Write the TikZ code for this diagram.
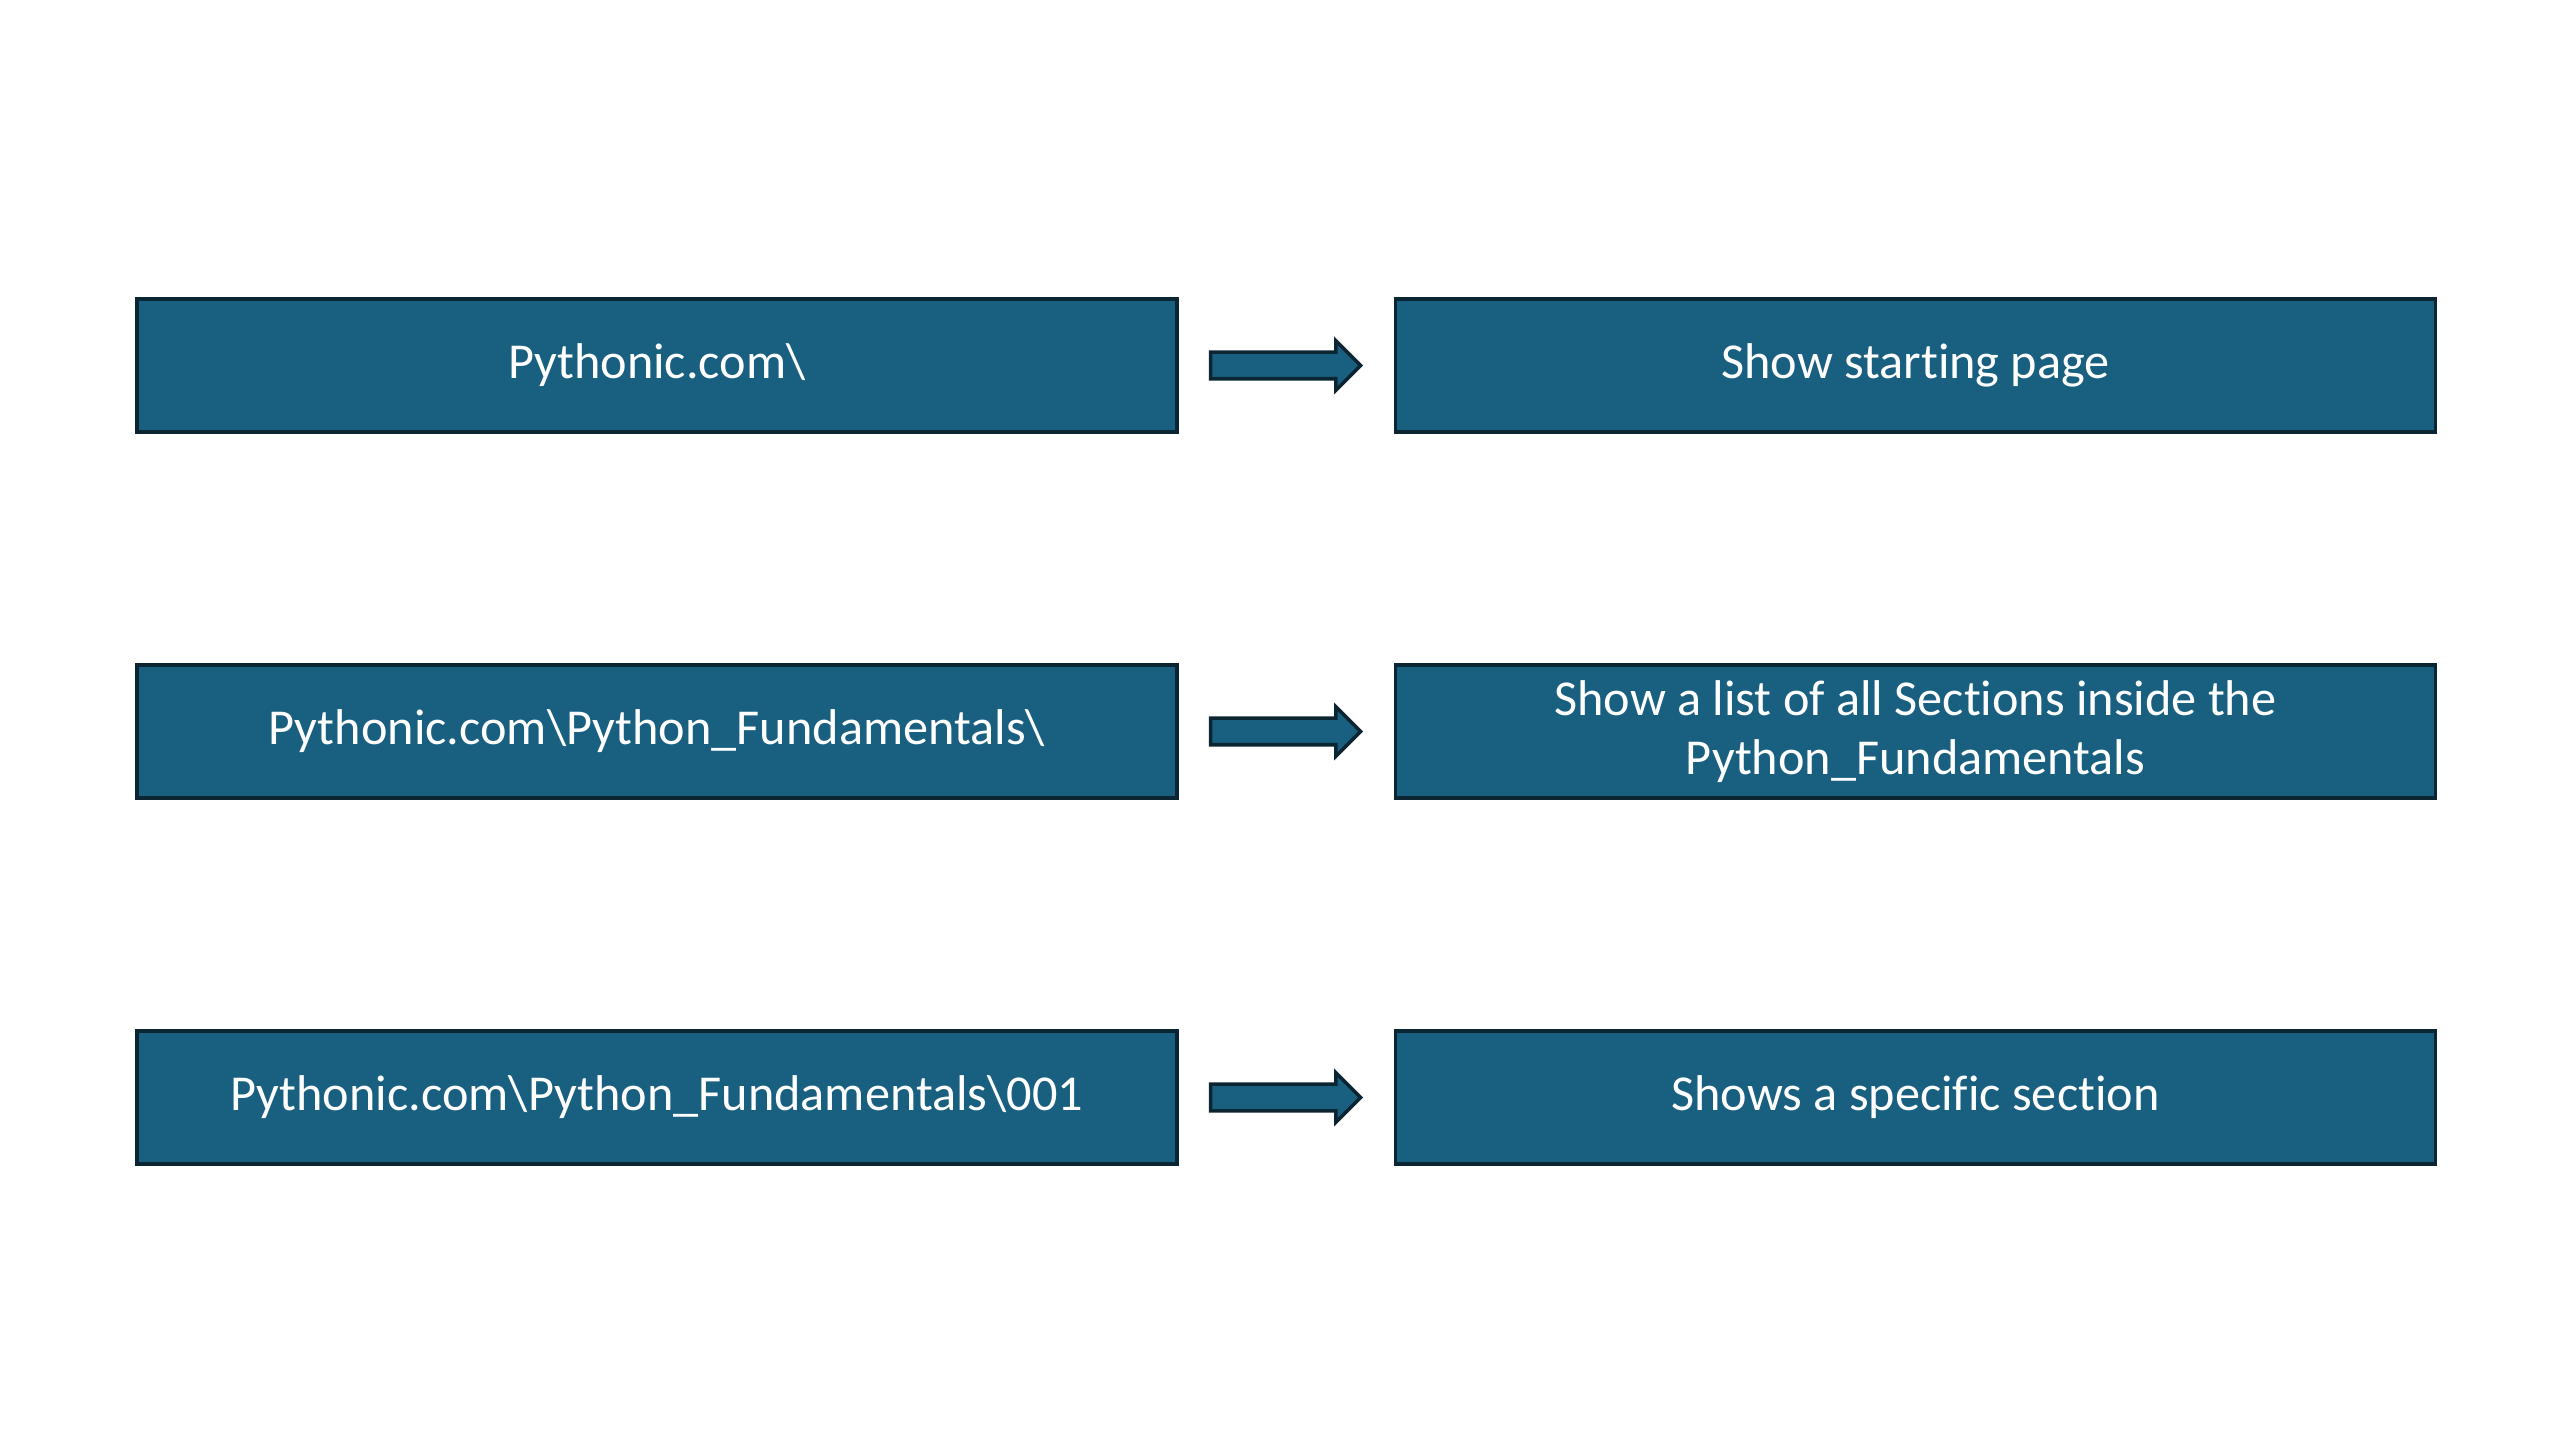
\documentclass[tikz,border=0pt]{standalone}
\usepackage{fontspec}
\setmainfont{Carlito}[Ligatures=NoCommon]
\usetikzlibrary{positioning,shapes.arrows}
\definecolor{boxblue}{HTML}{185F80}
\definecolor{boxedge}{HTML}{0C2533}
\begin{document}
\begin{tikzpicture}[node distance=3.66cm]
\tikzstyle{url}=[rectangle,draw=boxedge,fill=boxblue,line width=1pt,minimum width=10.4cm,minimum height=1.33cm,text=white,align=center,font=\fontsize{14.3}{17}\selectfont]
\tikzstyle{page}=[url]
\tikzstyle{link}=[single arrow,draw=boxedge,fill=boxblue,line width=1pt,minimum height=1.5cm,minimum width=0.46cm,inner sep=0.115cm,single arrow head extend=0.115cm]
\useasboundingbox (0,0) rectangle (25.6,14.4);
\node[url](u1) at (6.57,10.745) {Pythonic.com\textbackslash};
\node[url](u2)[below of=u1] {Pythonic.com\textbackslash Python\_Fundamentals\textbackslash};
\node[url](u3)[below of=u2] {Pythonic.com\textbackslash Python\_Fundamentals\textbackslash 001};

\node[page](p1)[right=2.15cm of u1] {Show starting page};
\node[page](p2)[right=2.15cm of u2] {Show a list of all Sections inside the\\Python\_Fundamentals};
\node[page](p3)[right=2.15cm of u3] {Shows a specific section};

\node[link](l1)[right=0.3cm of u1] {};
\node[link](l2)[right=0.3cm of u2] {};
\node[link](l3)[right=0.3cm of u3] {};
\end{tikzpicture}
\end{document}
